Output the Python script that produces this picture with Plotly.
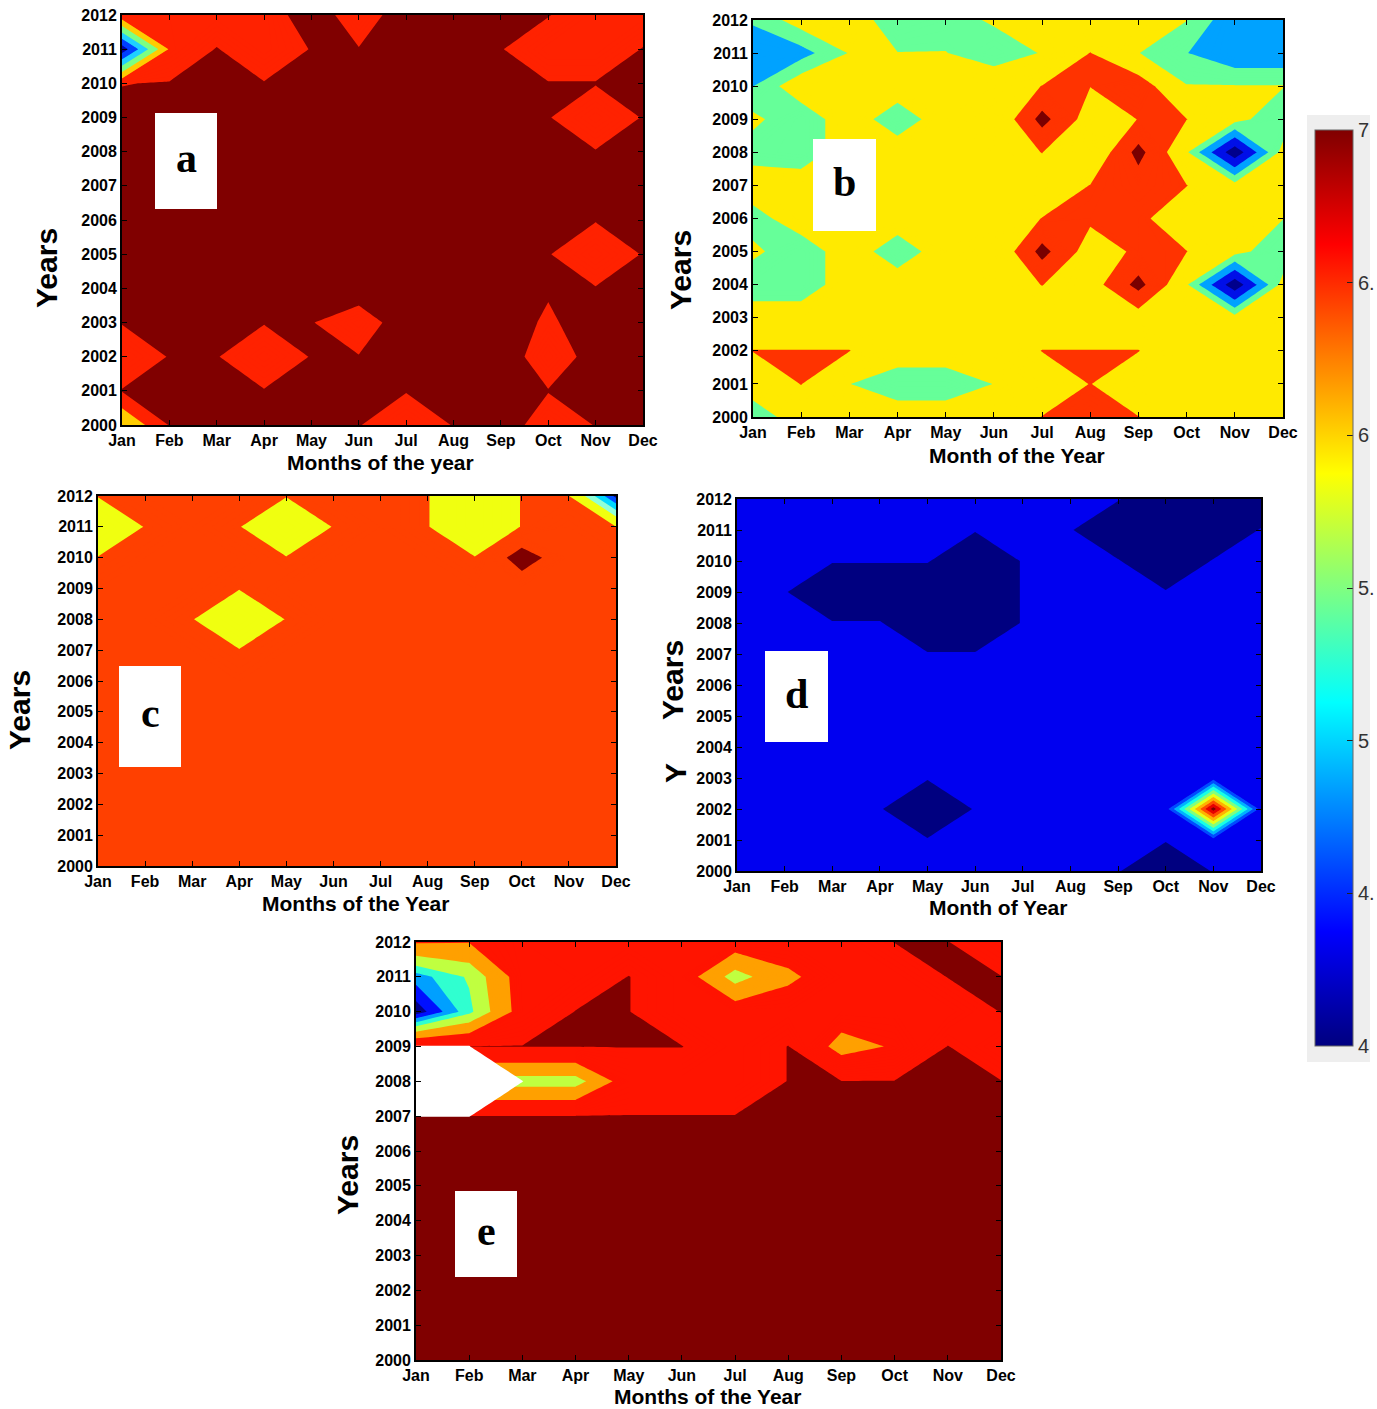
import plotly.graph_objects as go

W, H = 1377, 1409
months = ["Jan", "Feb", "Mar", "Apr", "May", "Jun", "Jul", "Aug", "Sep", "Oct", "Nov", "Dec"]
month_pos = [1, 2, 3, 4, 5, 6, 7, 8, 9, 10, 11, 12]
years = [2000, 2001, 2002, 2003, 2004, 2005, 2006, 2007, 2008, 2009, 2010, 2011, 2012]

# ---------------- panel a (rows: 2000 -> 2012, cols: Jan -> Dec) ----------------
a_values = [
    [6.10, 6.92, 6.92, 6.92, 6.92, 6.92, 6.60, 6.92, 7.20, 6.60, 6.92, 6.92],
    [6.92, 6.92, 7.00, 6.92, 7.00, 7.00, 6.92, 7.00, 7.00, 6.92, 7.00, 7.00],
    [6.60, 6.92, 6.92, 6.60, 6.92, 6.92, 7.00, 7.00, 7.20, 6.60, 7.10, 7.00],
    [6.92, 7.00, 7.00, 6.92, 6.92, 6.60, 7.20, 7.00, 7.00, 6.87, 7.00, 7.00],
    [7.00, 7.00, 7.00, 7.00, 7.00, 7.20, 7.00, 7.00, 7.00, 6.92, 6.92, 7.00],
    [7.00, 7.00, 7.00, 7.00, 7.00, 7.00, 7.00, 7.00, 7.00, 6.92, 6.60, 6.92],
    [7.00, 7.00, 7.00, 7.00, 7.00, 7.00, 7.00, 7.00, 7.00, 7.00, 6.92, 7.00],
    [7.00, 7.00, 7.00, 7.00, 7.00, 7.00, 7.00, 7.00, 7.00, 7.00, 7.00, 7.00],
    [7.00, 7.00, 7.00, 7.00, 7.00, 7.00, 7.00, 7.00, 7.00, 7.00, 6.92, 7.00],
    [7.00, 7.00, 7.00, 7.00, 7.00, 7.00, 7.00, 7.00, 7.00, 6.92, 6.60, 6.92],
    [6.89, 6.92, 7.00, 6.92, 7.00, 7.00, 7.00, 7.00, 7.00, 6.92, 6.92, 7.00],
    [4.20, 6.55, 6.92, 6.60, 6.92, 6.92, 7.00, 7.00, 6.92, 6.60, 6.60, 6.92],
    [6.85, 6.60, 6.60, 6.60, 7.20, 6.60, 7.20, 7.00, 7.00, 6.92, 6.60, 6.60],
]
a_thresholds = [4.5, 5.0, 5.5, 6.0, 6.5, 6.9]
a_colors = ["#0000A8", "#0040FF", "#20D0FF", "#7CFF84", "#FFCC00", "#FF2200", "#800000"]

# ---------------- panel b ----------------
b_values = [
    [5.30, 5.90, 5.90, 5.90, 5.90, 5.90, 6.21, 6.50, 6.21, 5.90, 5.90, 5.90],
    [5.90, 6.21, 5.61, 5.30, 5.30, 5.61, 5.90, 6.21, 5.90, 5.90, 5.90, 5.90],
    [6.21, 6.21, 6.21, 5.90, 5.90, 5.90, 6.21, 6.21, 6.21, 5.90, 5.90, 5.90],
    [5.90, 5.90, 5.90, 5.90, 5.90, 5.90, 5.90, 5.90, 5.90, 5.90, 5.75, 5.90],
    [5.30, 5.30, 5.90, 5.90, 5.90, 5.90, 6.21, 5.90, 7.00, 5.65, 4.10, 5.75],
    [5.70, 5.30, 5.90, 5.30, 5.90, 5.62, 7.00, 5.90, 6.30, 6.21, 5.75, 5.30],
    [5.40, 5.90, 5.90, 5.90, 5.90, 5.90, 6.21, 6.30, 6.30, 5.90, 5.90, 5.61],
    [5.90, 5.90, 5.90, 5.90, 5.90, 5.90, 5.90, 6.21, 6.50, 6.21, 5.75, 5.90],
    [5.40, 5.30, 5.90, 5.90, 5.90, 5.90, 6.21, 5.62, 7.00, 5.65, 4.10, 5.75],
    [5.70, 5.30, 5.90, 5.30, 5.90, 5.62, 7.00, 5.90, 6.21, 6.21, 5.75, 5.30],
    [5.24, 5.90, 5.90, 5.90, 5.90, 5.90, 6.21, 6.21, 6.50, 5.62, 5.62, 5.62],
    [5.00, 5.10, 5.62, 5.61, 5.61, 5.40, 5.62, 6.21, 5.61, 5.26, 4.95, 4.95],
    [5.30, 5.80, 5.90, 5.30, 5.45, 5.65, 5.90, 5.90, 5.90, 5.61, 4.95, 4.95],
]
b_thresholds = [4.4, 4.85, 5.25, 5.6, 6.2, 6.8]
b_colors = ["#00008C", "#0010E8", "#00A2FF", "#66FF99", "#FFEA00", "#FF3300", "#7A0000"]

# ---------------- panel c ----------------
c_values = [
    [6.50] * 12,
    [6.50] * 12,
    [6.50] * 12,
    [6.50] * 12,
    [6.50] * 12,
    [6.50] * 12,
    [6.50] * 12,
    [6.50, 6.50, 6.50, 6.26, 6.50, 6.50, 6.50, 6.50, 6.50, 6.50, 6.50, 6.50],
    [6.50, 6.50, 6.26, 6.00, 6.26, 6.50, 6.50, 6.50, 6.50, 6.50, 6.50, 6.50],
    [6.50, 6.50, 6.50, 6.26, 6.50, 6.50, 6.50, 6.50, 6.50, 6.50, 6.50, 6.50],
    [6.26, 6.50, 6.50, 6.50, 6.26, 6.50, 6.50, 6.50, 6.26, 7.20, 6.50, 6.50],
    [6.00, 6.26, 6.50, 6.26, 6.00, 6.26, 6.50, 6.26, 6.00, 6.26, 6.50, 6.26],
    [6.26, 6.50, 6.50, 6.50, 6.26, 6.50, 6.50, 6.26, 6.00, 6.26, 6.26, 4.60],
]
c_thresholds = [4.7, 5.0, 5.35, 5.7, 6.25, 6.9]
c_colors = ["#0000A0", "#0050FF", "#00D8FF", "#90FFD8", "#F0FF10", "#FF4000", "#800000"]

# ---------------- panel d ----------------
d_values = [
    [4.50, 4.50, 4.50, 4.50, 4.50, 4.50, 4.50, 4.50, 4.36, 4.20, 4.36, 4.50],
    [4.50, 4.50, 4.50, 4.50, 4.36, 4.50, 4.50, 4.50, 4.50, 4.36, 4.50, 4.50],
    [4.50, 4.50, 4.50, 4.36, 4.20, 4.36, 4.50, 4.50, 4.50, 4.50, 7.20, 4.50],
    [4.50, 4.50, 4.50, 4.50, 4.36, 4.50, 4.50, 4.50, 4.50, 4.50, 4.50, 4.50],
    [4.50] * 12,
    [4.50] * 12,
    [4.50] * 12,
    [4.50, 4.50, 4.50, 4.50, 4.36, 4.36, 4.50, 4.50, 4.50, 4.50, 4.50, 4.50],
    [4.50, 4.50, 4.36, 4.36, 4.20, 4.20, 4.36, 4.50, 4.50, 4.50, 4.50, 4.50],
    [4.50, 4.36, 4.20, 4.20, 4.20, 4.20, 4.36, 4.50, 4.50, 4.36, 4.50, 4.50],
    [4.50, 4.50, 4.36, 4.36, 4.36, 4.20, 4.36, 4.50, 4.36, 4.20, 4.36, 4.50],
    [4.50, 4.50, 4.50, 4.50, 4.50, 4.36, 4.50, 4.36, 4.20, 4.20, 4.20, 4.36],
    [4.50, 4.50, 4.50, 4.50, 4.50, 4.50, 4.50, 4.50, 4.36, 4.20, 4.20, 4.20],
]
d_thresholds = [4.35, 4.65, 4.95, 5.25, 5.55, 5.85, 6.15, 6.45, 6.75, 7.05]
d_colors = ["#000080", "#0000F0", "#004CFF", "#00B2FF", "#19FFE6", "#80FF80",
            "#E6FF19", "#FFB200", "#FF4D00", "#E60000", "#800000"]

# ---------------- panel e ----------------
e_values = [
    [7.00] * 12,
    [7.00] * 12,
    [7.00] * 12,
    [7.00] * 12,
    [7.00] * 12,
    [7.00] * 12,
    [7.00] * 12,
    [6.91, 6.91, 6.91, 6.91, 6.91, 6.91, 6.91, 7.00, 7.00, 7.00, 7.00, 7.00],
    [5.60, 5.60, 5.60, 5.60, 6.60, 6.60, 6.60, 6.91, 6.91, 6.91, 7.00, 6.91],
    [6.91, 6.91, 6.91, 6.91, 6.91, 6.91, 6.60, 6.91, 6.10, 6.35, 6.91, 6.60],
    [4.30, 5.30, 6.55, 6.91, 6.91, 6.60, 6.60, 6.60, 6.60, 6.60, 6.60, 6.91],
    [4.95, 5.45, 6.58, 6.60, 6.91, 6.60, 5.60, 6.20, 6.60, 6.60, 6.91, 6.91],
    [6.35, 6.32, 6.60, 6.60, 6.60, 6.60, 6.60, 6.60, 6.60, 6.91, 6.91, 6.60],
]
e_nodata = [("Jan", 2007), ("Jan", 2008), ("Jan", 2009), ("Feb", 2007),
            ("Feb", 2008), ("Feb", 2009), ("Mar", 2008)]
e_thresholds = [4.5, 4.8, 5.1, 5.4, 5.8, 6.3, 6.9]
e_colors = ["#00008F", "#0010FF", "#00A0FF", "#30FFD0", "#C0FF40", "#FFA000", "#FF1400", "#800000"]

cbar_ticks = [4, 4.5, 5, 5.5, 6, 6.5, 7]
cbar_labels = ["4", "4.", "5", "5.", "6", "6.", "7"]

# ---------------------------------------------------------------------------
LEVEL_START, LEVEL_END, LEVEL_STEP = 3.0, 8.0, 0.05
FONT = "Liberation Sans"


def band_colorscale(thresholds, colors):
    n = int(round((LEVEL_END - LEVEL_START) / LEVEL_STEP)) + 1
    out = []
    for j in range(n + 1):
        mid = LEVEL_START + (j - 0.5) * LEVEL_STEP
        k = sum(1 for t in thresholds if mid >= t)
        c = colors[k]
        lo = max(0.0, (j - 0.5) / n)
        hi = min(1.0, (j + 0.5) / n)
        out.append([lo, c])
        out.append([hi, c])
    return out


def jet(p):
    def cl(v):
        return max(0.0, min(1.0, v))
    r = cl(1.5 - abs(4 * p - 3))
    g = cl(1.5 - abs(4 * p - 2))
    b = cl(1.5 - abs(4 * p - 1))
    return "rgb(%d,%d,%d)" % (round(r * 255), round(g * 255), round(b * 255))


jet_scale = [[i / 64, jet(i / 64)] for i in range(65)]


def fx(x):
    return x / W


def fy(y):
    return 1 - y / H


panels = [
    ("a", a_values, a_thresholds, a_colors, (122, 643, 15, 425)),
    ("b", b_values, b_thresholds, b_colors, (753, 1283, 20, 417)),
    ("c", c_values, c_thresholds, c_colors, (98, 616, 496, 866)),
    ("d", d_values, d_thresholds, d_colors, (737, 1261, 499, 871)),
    ("e", e_values, e_thresholds, e_colors, (416, 1001, 942, 1360)),
]

fig = go.Figure()
layout = dict(
    width=W, height=H, margin=dict(l=0, r=0, t=0, b=0, autoexpand=False),
    paper_bgcolor="white", plot_bgcolor="white", showlegend=False,
    font=dict(family=FONT, color="black"),
)

for i, (name, vals, thr, cols, box) in enumerate(panels):
    sfx = "" if i == 0 else str(i + 1)
    fig.add_trace(go.Contour(
        x=month_pos, y=years, z=vals, autocontour=False,
        contours=dict(start=LEVEL_START, end=LEVEL_END, size=LEVEL_STEP,
                      coloring="fill", showlines=False),
        line=dict(width=0, smoothing=0), colorscale=band_colorscale(thr, cols),
        showscale=False, hoverinfo="skip",
        xaxis="x" + sfx, yaxis="y" + sfx,
    ))
    x0, x1, yt, yb = box
    common = dict(showline=True, linecolor="black", linewidth=1.8, mirror="ticks",
                  ticks="inside", ticklen=5, tickcolor="black", tickwidth=1,
                  showgrid=False, zeroline=False, automargin=False,
                  tickfont=dict(size=16, family=FONT, weight="bold", color="black"))
    layout["xaxis" + sfx] = dict(domain=[fx(x0), fx(x1)], range=[1, 12],
                                 tickvals=month_pos, ticktext=months,
                                 anchor="y" + sfx, **common)
    layout["yaxis" + sfx] = dict(domain=[fy(yb), fy(yt)], range=[2000, 2012],
                                 tickvals=years, ticktext=[str(y) for y in years],
                                 anchor="x" + sfx, **common)

# white no-data mask for panel e
e_mask = [[1 if (m, y) in e_nodata else 0 for m in months] for y in years]
fig.add_trace(go.Contour(
    x=month_pos, y=years, z=e_mask, autocontour=False,
    contours=dict(start=0.98, end=0.98, size=1, coloring="fill", showlines=False),
    line=dict(width=0, smoothing=0),
    colorscale=[[0, "rgba(255,255,255,0)"], [0.5, "rgba(255,255,255,0)"],
                [0.5, "#ffffff"], [1, "#ffffff"]],
    showscale=False, hoverinfo="skip", xaxis="x5", yaxis="y5",
))

# shared colour bar
fig.add_trace(go.Scatter(
    x=[None], y=[None], mode="markers", hoverinfo="skip", showlegend=False,
    marker=dict(color=[4], cmin=4, cmax=7, colorscale=jet_scale, showscale=True,
                colorbar=dict(x=fx(1315), xanchor="left", xpad=0,
                              y=fy(588), yanchor="middle", ypad=0,
                              len=916, lenmode="pixels", thickness=38,
                              thicknessmode="pixels",
                              tickvals=cbar_ticks, ticktext=cbar_labels,
                              ticks="inside", ticklen=6, tickcolor="#222",
                              outlinewidth=1, outlinecolor="#666",
                              tickfont=dict(size=20, family=FONT, color="#333"))),
))

shapes = [dict(type="rect", xref="paper", yref="paper", x0=fx(1307), x1=fx(1370),
               y0=fy(1062), y1=fy(115), fillcolor="#EEEEEE", line=dict(width=0),
               layer="below")]
annotations = []

letter_boxes = [("a", 155, 217, 113, 209), ("b", 813, 876, 139, 231),
                ("c", 119, 181, 666, 767), ("d", 765, 828, 651, 742),
                ("e", 455, 517, 1191, 1277)]
for lab, bx0, bx1, by0, by1 in letter_boxes:
    shapes.append(dict(type="rect", xref="paper", yref="paper",
                       x0=fx(bx0), x1=fx(bx1), y0=fy(by1), y1=fy(by0),
                       fillcolor="white", line=dict(width=0), layer="above"))
    annotations.append(dict(text=lab, xref="paper", yref="paper",
                            x=fx((bx0 + bx1) / 2), y=fy((by0 + by1) / 2 - 3),
                            showarrow=False, xanchor="center", yanchor="middle",
                            font=dict(size=42, family="Liberation Serif", weight="bold",
                                      color="black")))

x_titles = [("Months of the year", 380, 462), ("Month of the Year", 1017, 455),
            ("Months of the Year", 356, 903), ("Month of Year", 998, 907),
            ("Months of the Year", 707, 1396)]
for t, cx, cy in x_titles:
    annotations.append(dict(text=t, xref="paper", yref="paper", x=fx(cx), y=fy(cy),
                            showarrow=False, xanchor="center", yanchor="middle",
                            font=dict(size=21, family=FONT, weight="bold", color="black")))

y_titles = [("Years", 47, 268), ("Years", 680, 270), ("Years", 20, 710),
            ("Years", 672, 680), ("Y", 675, 773), ("Years", 347, 1175)]
for t, cx, cy in y_titles:
    annotations.append(dict(text=t, xref="paper", yref="paper", x=fx(cx), y=fy(cy),
                            showarrow=False, xanchor="center", yanchor="middle",
                            textangle=-90,
                            font=dict(size=30, family=FONT, weight="bold", color="black")))

layout["shapes"] = shapes
layout["annotations"] = annotations
fig.update_layout(**layout)
fig.write_html("out.html")
